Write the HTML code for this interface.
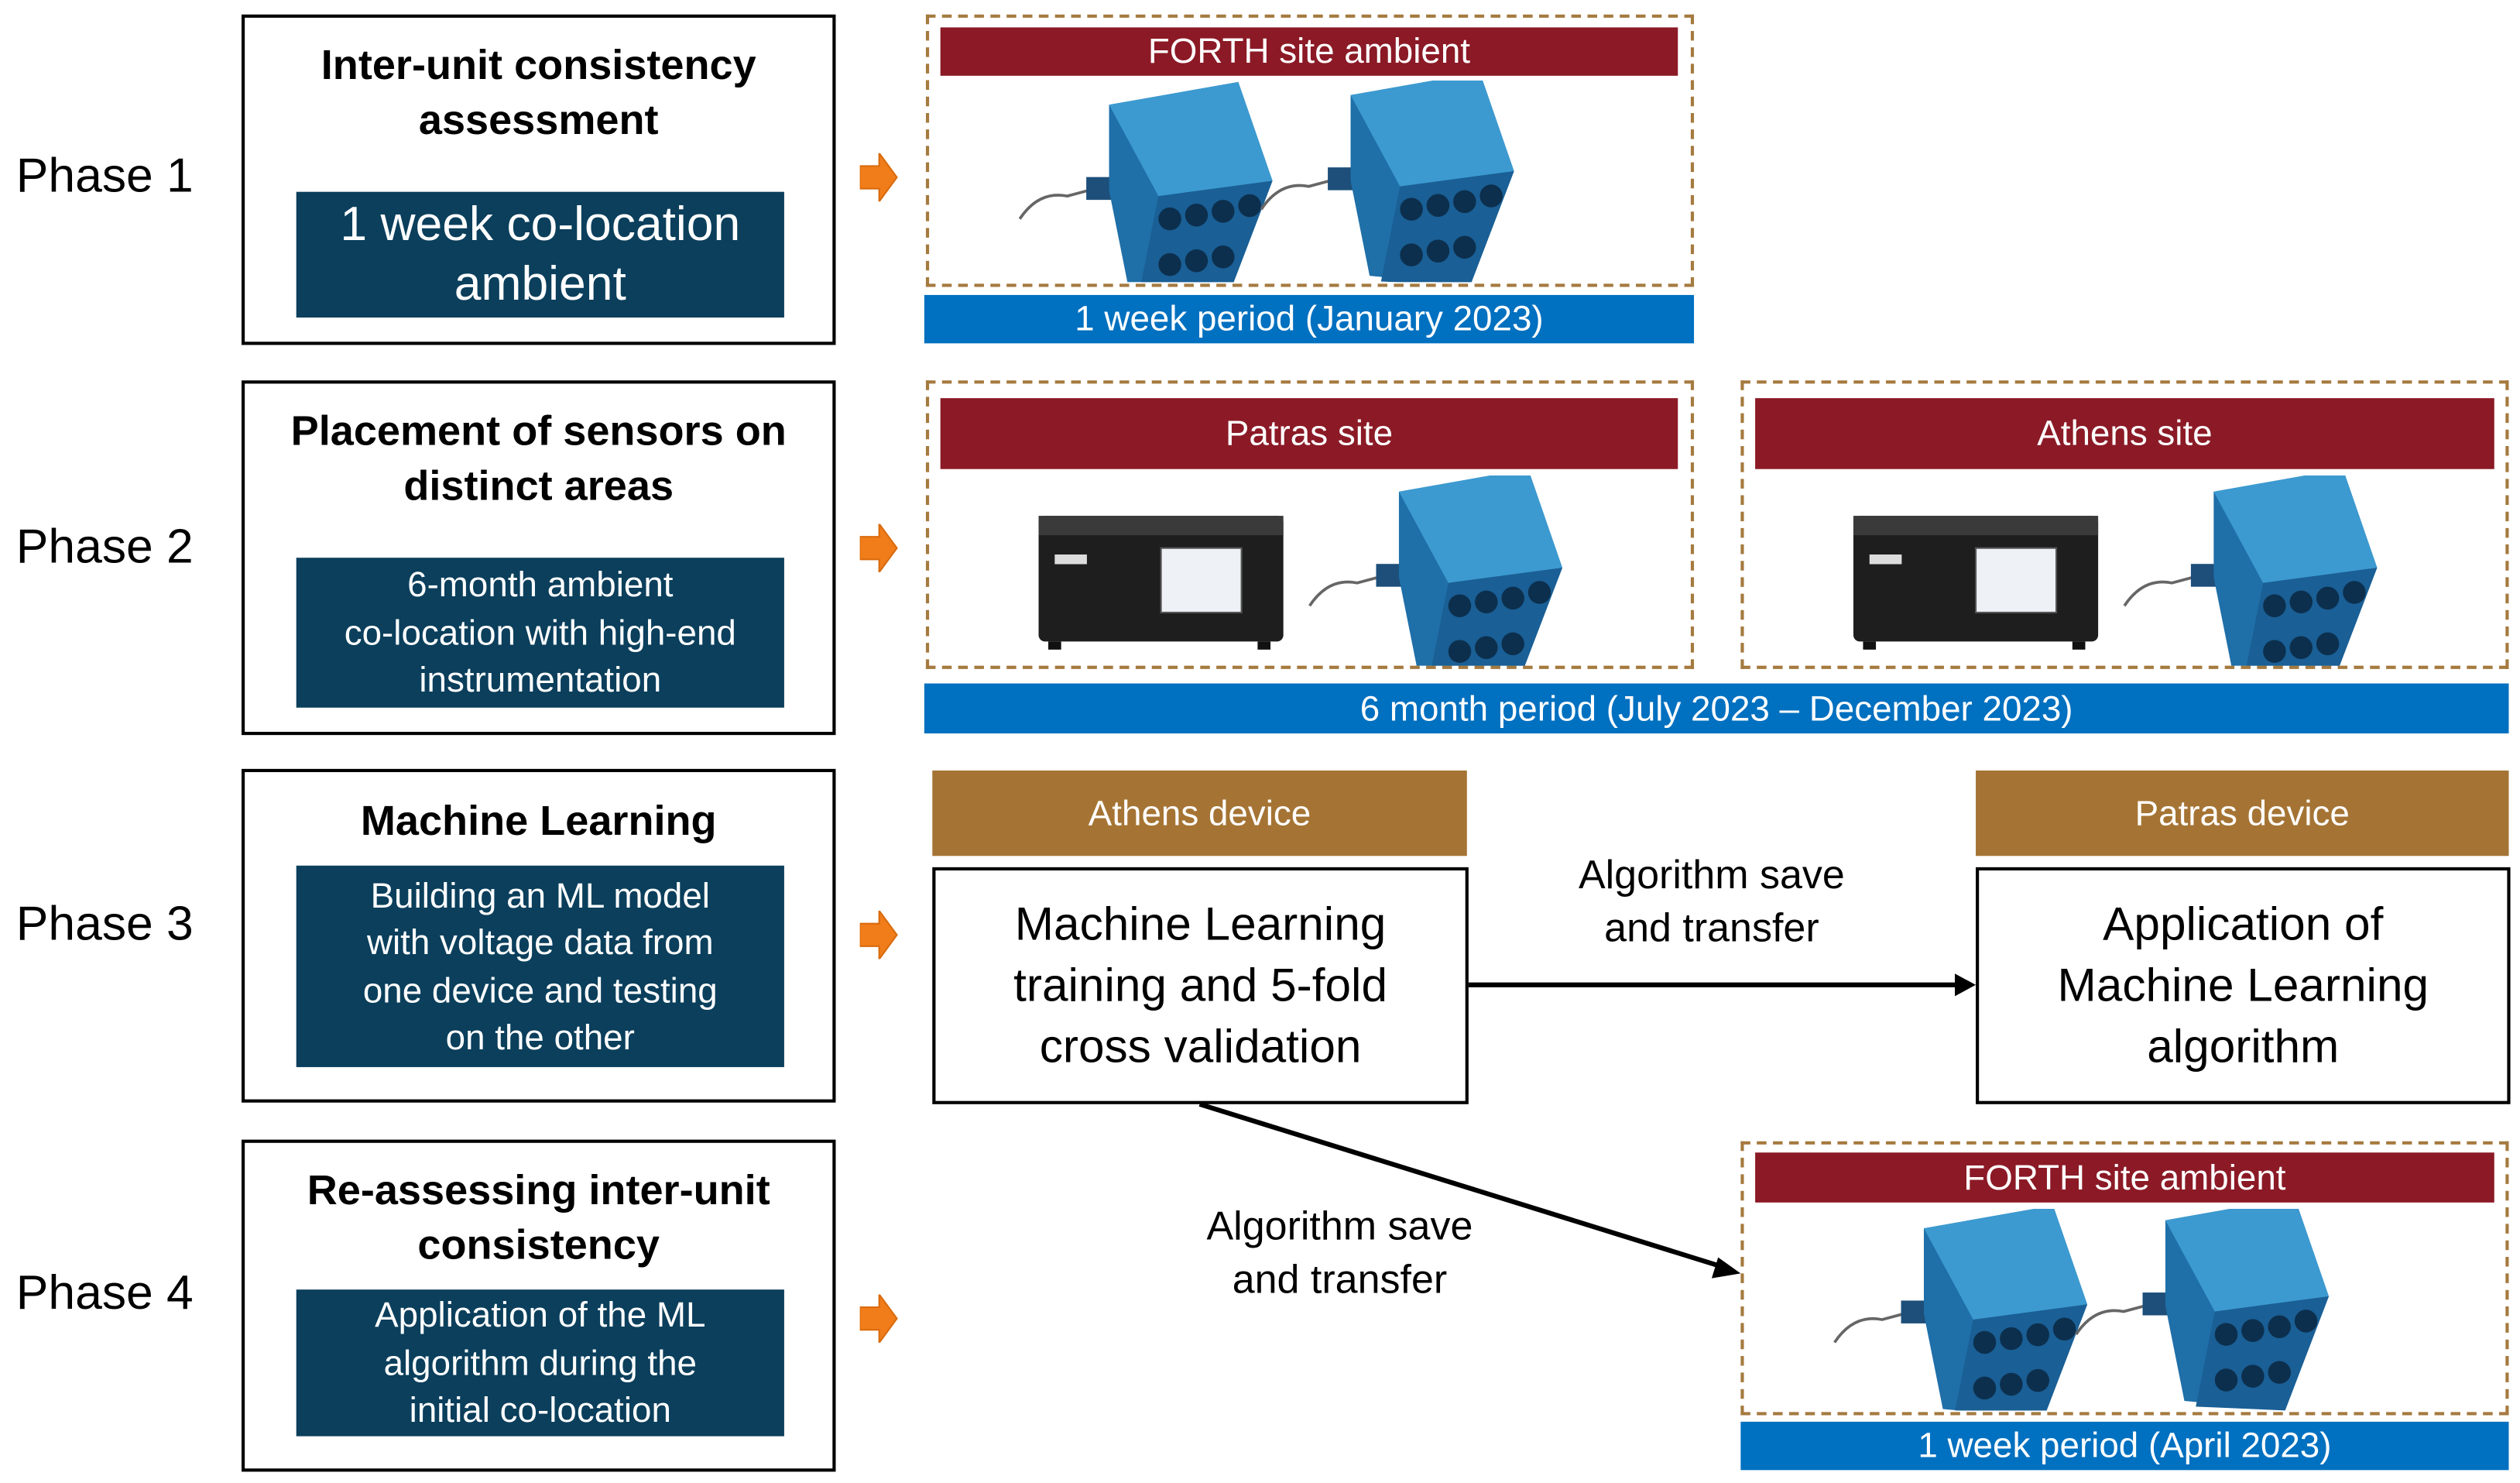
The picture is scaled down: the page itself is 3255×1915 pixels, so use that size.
<!DOCTYPE html>
<html><head><meta charset="utf-8">
<style>
html,body{margin:0;padding:0;background:#fff;}
body{width:3255px;height:1915px;overflow:hidden;position:relative;}
#c{position:absolute;left:0;top:0;width:1565px;height:920px;transform:scale(2.0799,2.0815);transform-origin:0 0;font-family:"Liberation Sans",Arial,sans-serif;}
.a{position:absolute;box-sizing:border-box;}
.ph{position:absolute;left:10px;font-size:30px;color:#000;line-height:30px;}
.lb{position:absolute;left:150px;width:369px;border:2.5px solid #000;box-sizing:border-box;background:#fff;}
.tt{position:absolute;left:0;right:0;text-align:center;font-weight:bold;font-size:26px;line-height:34px;color:#000;}
.db{position:absolute;left:184px;width:303px;background:#0b3f5c;color:#fff;text-align:center;display:flex;align-items:center;justify-content:center;}
.dash{position:absolute;border:2.5px dashed #a57a3f;box-sizing:border-box;}
.red{position:absolute;background:#8b1a26;color:#fff;font-size:22px;text-align:center;display:flex;align-items:center;justify-content:center;}
.blue{position:absolute;background:#0070c0;color:#fff;font-size:22px;text-align:center;display:flex;align-items:center;justify-content:center;}
.brown{position:absolute;background:#a57434;color:#fff;font-size:22px;display:flex;align-items:center;justify-content:center;}
.wb{position:absolute;border:2.5px solid #000;box-sizing:border-box;background:#fff;font-size:29px;line-height:38px;text-align:center;display:flex;align-items:center;justify-content:center;}
.lab{position:absolute;font-size:25px;line-height:33px;text-align:center;}
.oa{position:absolute;left:534px;width:24px;height:30px;}
</style></head><body>
<svg width="0" height="0" style="position:absolute">
<defs>
<g id="sen0">
<path d="M-65 60 Q-55 45 -40 48 L-25 44" stroke="#666" stroke-width="1.5" fill="none"/>
<rect x="-30" y="38" width="14" height="12" fill="#1d4f7a"/>
<polygon points="-18,0 50,-12 68,40 45,100 -8,95 -18,45" fill="#1f6fa8"/>
<polygon points="-18,0 50,-12 68,40 8,48" fill="#3c9ad0"/>
<polygon points="8,48 68,40 45,100 -2,98" fill="#1a5f95"/>
<g fill="#0c2f4d"><circle cx="14" cy="60" r="6"/><circle cx="28" cy="58" r="6"/><circle cx="42" cy="56" r="6"/><circle cx="56" cy="53" r="6"/><circle cx="14" cy="84" r="6"/><circle cx="28" cy="82" r="6"/><circle cx="42" cy="80" r="6"/></g>
</g>
<g id="sen"><g transform="scale(1.18)"><use href="#sen0"/></g></g>
<g id="ins">
<rect x="0" y="0" width="152" height="78" rx="4" fill="#1e1e1e"/>
<rect x="0" y="0" width="152" height="12" fill="#3a3a3a"/>
<rect x="76" y="20" width="50" height="40" fill="#eef2f6" stroke="#555"/>
<rect x="10" y="24" width="20" height="6" fill="#ddd"/>
<rect x="6" y="78" width="8" height="5" fill="#111"/><rect x="136" y="78" width="8" height="5" fill="#111"/>
</g>
<g id="oar"><polygon points="0,8 12,8 12,0 23,15 12,30 12,22 0,22" fill="#f07d1a" stroke="#d96a0b" stroke-width="1"/></g>
</defs></svg>
<div id="c">
<div class="ph" style="top:95px">Phase 1</div>
<div class="ph" style="top:325px">Phase 2</div>
<div class="ph" style="top:559px">Phase 3</div>
<div class="ph" style="top:788px">Phase 4</div>

<div class="lb" style="top:9px;height:205px"><div class="tt" style="top:12px">Inter-unit consistency<br>assessment</div></div>
<div class="db" style="top:119px;height:78px;font-size:30px;line-height:37px">1 week co-location<br>ambient</div>

<div class="lb" style="top:236px;height:220px"><div class="tt" style="top:12px">Placement of sensors on<br>distinct areas</div></div>
<div class="db" style="top:346px;height:93px;font-size:22px;line-height:29.5px">6-month ambient<br>co-location with high-end<br>instrumentation</div>

<div class="lb" style="top:477px;height:207px"><div class="tt" style="top:13px">Machine Learning</div></div>
<div class="db" style="top:537px;height:125px;font-size:22px;line-height:29.5px">Building an ML model<br>with voltage data from<br>one device and testing<br>on the other</div>

<div class="lb" style="top:707px;height:206px"><div class="tt" style="top:12px">Re-assessing inter-unit<br>consistency</div></div>
<div class="db" style="top:800px;height:91px;font-size:22px;line-height:29.5px">Application of the ML<br>algorithm during the<br>initial co-location</div>

<svg class="oa" style="top:95px" viewBox="0 0 24 30"><use href="#oar"/></svg>
<svg class="oa" style="top:325px" viewBox="0 0 24 30"><use href="#oar"/></svg>
<svg class="oa" style="top:565px" viewBox="0 0 24 30"><use href="#oar"/></svg>
<svg class="oa" style="top:803px" viewBox="0 0 24 30"><use href="#oar"/></svg>

<!-- phase1 -->
<div class="dash" style="left:575px;top:9px;width:477px;height:169px"></div>
<div class="red" style="left:584px;top:17px;width:458px;height:30px">FORTH site ambient</div>
<svg class="a" style="left:575px;top:50px" width="477" height="125"><use href="#sen" x="135" y="15"/><use href="#sen" x="285" y="9"/></svg>
<div class="blue" style="left:574px;top:183px;width:478px;height:30px">1 week period (January 2023)</div>

<!-- phase2 -->
<div class="dash" style="left:575px;top:236px;width:477px;height:179px"></div>
<div class="red" style="left:584px;top:247px;width:458px;height:44px">Patras site</div>
<svg class="a" style="left:575px;top:295px" width="477" height="118"><use href="#ins" x="70" y="25"/><use href="#sen" x="315" y="10"/></svg>
<div class="dash" style="left:1081px;top:236px;width:477px;height:179px"></div>
<div class="red" style="left:1090px;top:247px;width:459px;height:44px">Athens site</div>
<svg class="a" style="left:1081px;top:295px" width="477" height="118"><use href="#ins" x="70" y="25"/><use href="#sen" x="315" y="10"/></svg>
<div class="blue" style="left:574px;top:424px;width:984px;height:31px">6 month period (July 2023 – December 2023)</div>

<!-- phase3 -->
<div class="brown" style="left:579px;top:478px;width:332px;height:53px">Athens device</div>
<div class="wb" style="left:579px;top:538px;width:333px;height:147px">Machine Learning<br>training and 5-fold<br>cross validation</div>
<div class="brown" style="left:1227px;top:478px;width:331px;height:53px">Patras device</div>
<div class="wb" style="left:1227px;top:538px;width:332px;height:147px">Application of<br>Machine Learning<br>algorithm</div>
<div class="lab" style="left:943px;top:527px;width:240px">Algorithm save<br>and transfer</div>
<div class="lab" style="left:712px;top:745px;width:240px">Algorithm save<br>and transfer</div>
<svg class="a" style="left:0;top:0" width="1565" height="920">
<line x1="912" y1="611" x2="1216" y2="611" stroke="#000" stroke-width="3"/>
<polygon points="1227,611 1214,604 1214,618" fill="#000"/>
<line x1="745" y1="685" x2="1070" y2="786" stroke="#000" stroke-width="3"/>
<polygon points="1081,790 1067,780 1063,793" fill="#000"/>
</svg>

<!-- phase4 -->
<div class="dash" style="left:1081px;top:708px;width:477px;height:170px"></div>
<div class="red" style="left:1090px;top:715px;width:459px;height:31px">FORTH site ambient</div>
<svg class="a" style="left:1081px;top:750px" width="477" height="125"><use href="#sen" x="135" y="12"/><use href="#sen" x="285" y="7"/></svg>
<div class="blue" style="left:1081px;top:882px;width:477px;height:30px">1 week period (April 2023)</div>
</div>
</body></html>
